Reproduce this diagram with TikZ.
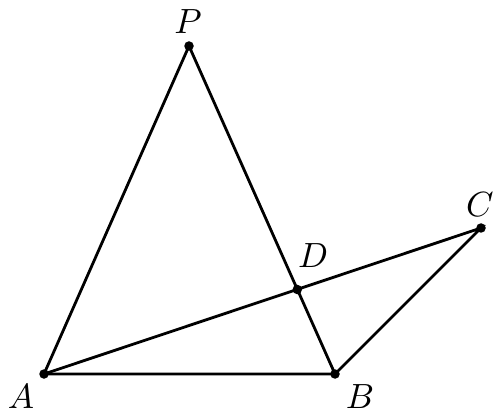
\documentclass[tikz,border=0pt]{standalone}
\begin{document}
\begin{tikzpicture}[x=1pt,y=-1pt,
  seg/.style={line width=2.8pt},
  pt/.style={circle,fill=black,inner sep=0pt,minimum size=9.5pt},
  lbl/.style={scale=3.5}]
\useasboundingbox (0,0) rectangle (504,417);
\node[pt] (A) at (44,374) {};
\node[pt] (B) at (335,374) {};
\node[pt] (P) at (189,46) {};
\node[pt] (C) at (481,228) {};
\node[pt] (D) at (297.3,289.5) {};
\draw[seg] (A.center) -- (B.center) -- (P.center) -- (A.center);
\draw[seg] (A.center) -- (C.center) -- (B.center);
\node[lbl] (lP) at (188,22) {$P$};
\node[lbl] (lA) at (21,397) {$A$};
\node[lbl] (lB) at (360,397) {$B$};
\node[lbl] (lC) at (480,205) {$C$};
\node[lbl] (lD) at (313,256) {$D$};
\end{tikzpicture}
\end{document}
